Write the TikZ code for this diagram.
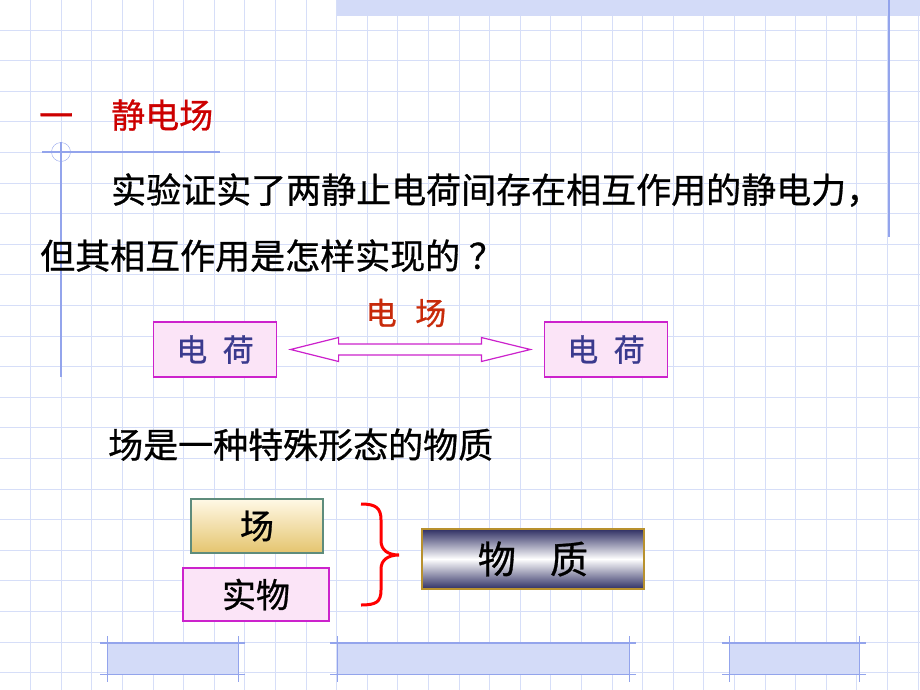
\documentclass[tikz,border=0pt]{standalone}
\usepackage{fontspec}
\newfontfamily\cjk[FakeBold=0.8]{Noto Sans CJK SC}
\usetikzlibrary{calc,positioning}
\definecolor{gridblue}{HTML}{D6DEF8}
\definecolor{rulerblue}{HTML}{93A4EC}
\definecolor{bandblue}{HTML}{D3DBF8}
\definecolor{titlered}{HTML}{CC0000}
\definecolor{fieldred}{HTML}{C82A0A}
\definecolor{chargeblue}{HTML}{3A3A8E}
\definecolor{magentaline}{HTML}{CC22CC}
\definecolor{pinkfill}{HTML}{FBE4F7}
\definecolor{navy}{HTML}{2F2F63}
\definecolor{goldline}{HTML}{B8912E}
\definecolor{tealline}{HTML}{5E8C7C}
\definecolor{creamtop}{HTML}{FFF9E6}
\definecolor{goldbottom}{HTML}{E4C46E}

\begin{document}
\begin{tikzpicture}[x=1pt,y=-1pt,
  txt/.style={inner sep=0pt,anchor=base west,font=\cjk\fontsize{35}{35}\selectfont},
  charge/.style={draw=magentaline,line width=1.2pt,fill=pinkfill,minimum width=123pt,minimum height=55pt,inner sep=0pt,text=chargeblue,font=\cjk\fontsize{31}{31}\selectfont},
  kind/.style={line width=1.2pt,minimum height=54pt,inner sep=0pt,font=\cjk\fontsize{34}{34}\selectfont}]
\useasboundingbox (0,0) rectangle (920,690);
\foreach \i in {0,...,29} \draw[gridblue,line width=0.8pt] ({30.5+30.6*\i},0) -- ({30.5+30.6*\i},690);
\foreach \j in {0,...,21} \draw[gridblue,line width=0.8pt] (0,{30+30.6*\j}) -- (920,{30+30.6*\j});
\fill[bandblue] (337,0) rectangle (920,16);
\draw[rulerblue,line width=1.2pt] (889,0) -- (889,237);
\draw[rulerblue,line width=1.2pt] (61,142) -- (61,377);
\draw[rulerblue,line width=1.2pt] (42,152) -- (220,152);
\draw[rulerblue] (61,152) circle (9.5);
\foreach \a/\b in {107/238,337/629,729/859} {
  \fill[bandblue] (\a,643) rectangle (\b,674);
  \draw[rulerblue,line width=1.5pt] (\a-7,643) -- (\b+7,643);
  \draw[rulerblue] (\a-7,674) -- (\b+7,674);
  \draw[rulerblue] (\a,636) -- (\a,682);
  \draw[rulerblue] (\b,636) -- (\b,682);
}
\node[txt,text=titlered,font=\cjk\fontsize{34}{34}\selectfont] (t1) at (39,128) {一};
\node[txt,text=titlered,font=\cjk\fontsize{34}{34}\selectfont] (t2) at (111,128) {静电场};
\node[txt] (q1) at (111,203) {实验证实了两静止电荷间存在相互作用的静电力，};
\node[txt] (q2) at (40,269) {但其相互作用是怎样实现的\hspace{0.25em}？};
\node[charge] (lq) at (215,349.5) {电\hspace{0.5em}荷};
\node[charge] (rq) at (606,349.5) {电\hspace{0.5em}荷};
\coordinate (al) at ($(lq.east)+(13.5,0)$);
\coordinate (ar) at ($(rq.west)+(-13.5,0)$);
\draw[magentaline,line width=1.2pt,fill=white] (al) -- ++(48,-12) -- ++(0,6.5) -- ($(ar)+(-49,-5.5)$) -- ++(0,-6.5) -- (ar)
  -- ++(-49,12) -- ++(0,-6.5) -- ($(al)+(48,5.5)$) -- ++(0,6.5) -- cycle;
\node[inner sep=0pt,text=fieldred,font=\cjk\fontsize{31}{31}\selectfont] (ef) at (406,313) {电\hspace{0.6em}场};
\node[txt] (sm) at (108,458) {场是一种特殊形态的物质};
\node[kind,draw=tealline,top color=creamtop,bottom color=goldbottom,minimum width=132pt] (fd) at (257,526) {场};
\node[kind,draw=magentaline,fill=pinkfill,minimum width=146pt,minimum height=53pt] (mt) at (256,594.5) {实物};
\node[kind,draw=goldline,top color=navy,bottom color=navy,middle color=white,minimum width=222pt,minimum height=60pt,font=\cjk\fontsize{38}{38}\selectfont] (mq) at (533,559) {物\hspace{0.9em}质};
\draw[red,line width=3pt] (361,504) .. controls (376,504) and (381,508) .. (381,520) -- (381,541)
  .. controls (381,550) and (388,555) .. (399,555) .. controls (388,555) and (381,560) .. (381,569)
  -- (381,590) .. controls (381,602) and (376,605) .. (361,605);
\end{tikzpicture}
\end{document}
